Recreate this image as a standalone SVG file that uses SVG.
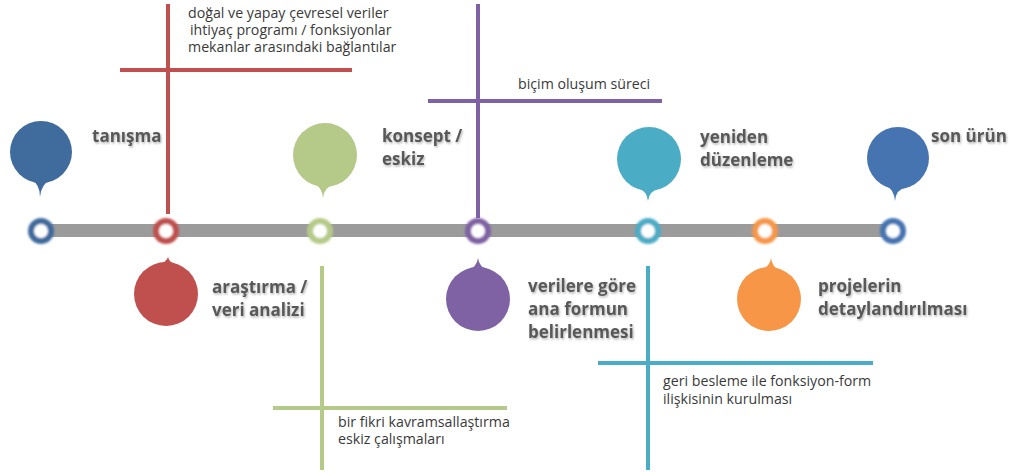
<svg xmlns="http://www.w3.org/2000/svg" width="1011" height="475" viewBox="0 0 1011 475">
<defs>
<filter id="soft" x="-50%" y="-50%" width="200%" height="200%"><feGaussianBlur stdDeviation="0.9"/></filter>
<filter id="tsh" x="-10%" y="-30%" width="120%" height="160%"><feDropShadow dx="1" dy="1.5" stdDeviation="1" flood-color="#000" flood-opacity="0.3"/></filter>
</defs>
<style>
.lbl{font-family:"Open Sans","Liberation Sans",sans-serif;font-weight:700;font-size:17px;fill:#595959}
.note{font-family:"Open Sans","Liberation Sans",sans-serif;font-size:14.2px;fill:#3a3a3a}
.ring{fill:#fff;stroke-width:6}
.ln{stroke-width:4;fill:none}
</style>
<rect width="1011" height="475" fill="#fff"/>
<g id="connectors">
<line x1="41" y1="230.5" x2="893" y2="230.5" stroke="#9b9b9b" stroke-width="13"/>
<line class="ln" x1="168" y1="4" x2="168" y2="214" stroke="#c0504d"/>
<line class="ln" x1="120" y1="70" x2="352" y2="70" stroke="#c0504d"/>
<line class="ln" x1="478" y1="4" x2="478" y2="218" stroke="#7f62a3"/>
<line class="ln" x1="428" y1="101" x2="662" y2="101" stroke="#7f62a3"/>
<line class="ln" x1="322" y1="266" x2="322" y2="470" stroke="#b5ca88"/>
<line class="ln" x1="273" y1="408" x2="507" y2="408" stroke="#b5ca88"/>
<line class="ln" x1="648" y1="266" x2="648" y2="470" stroke="#4bacc6"/>
<line class="ln" x1="598" y1="363" x2="873" y2="363" stroke="#4bacc6"/>
</g>
<g id="n1">
<circle class="ring" cx="41" cy="231" r="10" stroke="#3f6b9d" filter="url(#soft)"/>
<circle cx="41" cy="152" r="31" fill="#3f6b9d"/>
<path d="M31,180 Q40,184 40,197 Q41,184 51,180 Z" fill="#3f6b9d"/>
<text class="lbl" x="92" y="142" filter="url(#tsh)">tanışma</text>
</g>
<g id="n2">
<circle class="ring" cx="166" cy="231" r="10" stroke="#c0504d" filter="url(#soft)"/>
<circle cx="166" cy="294" r="32" fill="#c0504d"/>
<path d="M157,265 Q167,262 168,257 Q169,262 178,267 Z" fill="#c0504d"/>
<text class="lbl" x="212" y="293" filter="url(#tsh)">araştırma /</text>
<text class="lbl" x="212" y="316" filter="url(#tsh)">veri analizi</text>
<text class="note" x="188" y="18">doğal ve yapay çevresel veriler</text>
<text class="note" x="190" y="35">ihtiyaç programı / fonksiyonlar</text>
<text class="note" x="188" y="52">mekanlar arasındaki bağlantılar</text>
</g>
<g id="n3">
<circle class="ring" cx="320" cy="231" r="10" stroke="#b5ca88" filter="url(#soft)"/>
<circle cx="325" cy="155" r="32" fill="#b5ca88"/>
<path d="M314,184 Q322,187 323,198 Q324,187 335,184 Z" fill="#b5ca88"/>
<text class="lbl" x="382" y="142" filter="url(#tsh)">konsept /</text>
<text class="lbl" x="382" y="165" filter="url(#tsh)">eskiz</text>
<text class="note" x="338" y="427">bir fikri kavramsallaştırma</text>
<text class="note" x="338" y="444">eskiz çalışmaları</text>
</g>
<g id="n4">
<circle class="ring" cx="478" cy="231" r="10" stroke="#7f62a3" filter="url(#soft)"/>
<circle cx="478" cy="299" r="32" fill="#7f62a3"/>
<path d="M467,271 Q477,267 478,258 Q479,267 489,271 Z" fill="#7f62a3"/>
<text class="lbl" x="528" y="292" filter="url(#tsh)">verilere göre</text>
<text class="lbl" x="528" y="315" filter="url(#tsh)">ana formun</text>
<text class="lbl" x="528" y="338" filter="url(#tsh)">belirlenmesi</text>
<text class="note" x="518" y="89">biçim oluşum süreci</text>
</g>
<g id="n5">
<circle class="ring" cx="648" cy="231" r="10" stroke="#4bacc6" filter="url(#soft)"/>
<circle cx="649" cy="159" r="32" fill="#4bacc6"/>
<path d="M638,188 Q647,191 648,201 Q649,191 660,188 Z" fill="#4bacc6"/>
<text class="lbl" x="700" y="143" filter="url(#tsh)">yeniden</text>
<text class="lbl" x="700" y="166" filter="url(#tsh)">düzenleme</text>
<text class="note" x="663" y="386">geri besleme ile fonksiyon-form</text>
<text class="note" x="663" y="403.5">ilişkisinin kurulması</text>
</g>
<g id="n6">
<circle class="ring" cx="765" cy="231" r="10" stroke="#f79646" filter="url(#soft)"/>
<circle cx="769" cy="299" r="32" fill="#f79646"/>
<path d="M759,271 Q770,267 771,258 Q772,267 781,272 Z" fill="#f79646"/>
<text class="lbl" x="818" y="292" filter="url(#tsh)">projelerin</text>
<text class="lbl" x="818" y="315" filter="url(#tsh)">detaylandırılması</text>
</g>
<g id="n7">
<circle class="ring" cx="893" cy="231" r="10" stroke="#4574b1" filter="url(#soft)"/>
<circle cx="898" cy="158" r="31" fill="#4574b1"/>
<path d="M886,186 Q894,189 895,201 Q896,189 907,187 Z" fill="#4574b1"/>
<text class="lbl" x="931" y="142" filter="url(#tsh)">son ürün</text>
</g>
</svg>
